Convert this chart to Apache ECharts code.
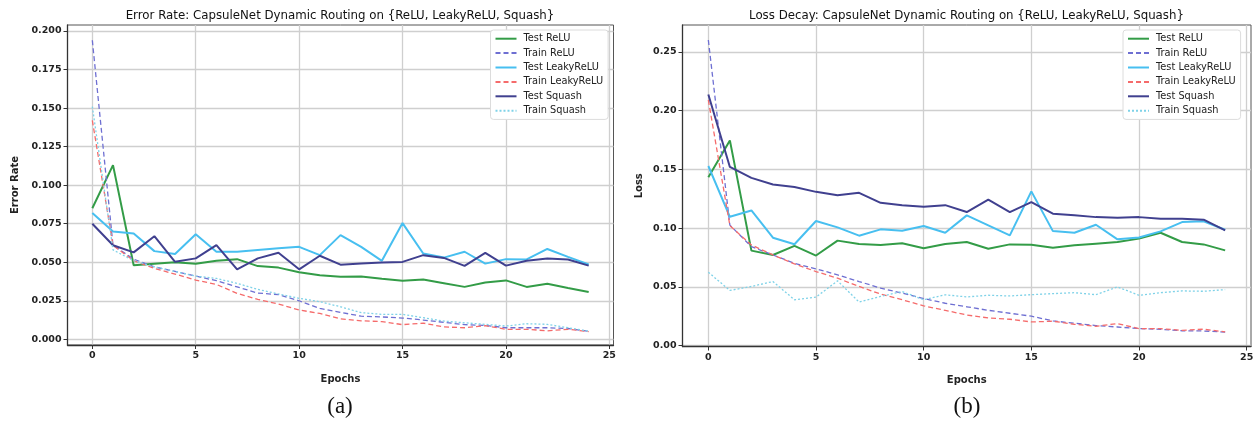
<!DOCTYPE html>
<html>
<head>
<meta charset="utf-8">
<title>CapsuleNet Dynamic Routing</title>
<script src="https://cdn.jsdelivr.net/npm/echarts@6/dist/echarts.min.js"></script>
<style>
  html, body { margin: 0; padding: 0; background: #fff; }
  #main { width: 1259px; height: 423px; }
</style>
</head>
<body>
<div id="main"></div>
<script>
// epochs 0..24
var epochs = [0, 1, 2, 3, 4, 5, 6, 7, 8, 9, 10, 11, 12, 13, 14, 15, 16, 17, 18, 19, 20, 21, 22, 23, 24];
var seriesNames = ['Test ReLU', 'Train ReLU', 'Test LeakyReLU', 'Train LeakyReLU', 'Test Squash', 'Train Squash'];

// (a) error rate
var errTestRelu = [0.085, 0.113, 0.048, 0.049, 0.050, 0.049, 0.051, 0.052, 0.0475, 0.0465, 0.0435, 0.0415, 0.0405, 0.0408, 0.0393, 0.038, 0.0388, 0.0364, 0.034, 0.0368, 0.0382, 0.034, 0.036, 0.0333, 0.0307];
var errTrainRelu = [0.194, 0.061, 0.052, 0.047, 0.044, 0.041, 0.038, 0.034, 0.030, 0.029, 0.025, 0.020, 0.0175, 0.015, 0.0145, 0.0138, 0.0125, 0.011, 0.0095, 0.009, 0.0075, 0.0075, 0.0075, 0.007, 0.0052];
var errTestLeaky = [0.082, 0.070, 0.0687, 0.0572, 0.0553, 0.0682, 0.0568, 0.0568, 0.0579, 0.059, 0.060, 0.0546, 0.0676, 0.060, 0.0509, 0.0754, 0.0557, 0.053, 0.0568, 0.0491, 0.052, 0.0518, 0.0586, 0.0535, 0.0485];
var errTrainLeaky = [0.142, 0.061, 0.051, 0.046, 0.0423, 0.0384, 0.0356, 0.0298, 0.0259, 0.0229, 0.019, 0.0168, 0.0132, 0.012, 0.0115, 0.0095, 0.0105, 0.008, 0.0075, 0.0088, 0.0065, 0.0065, 0.0055, 0.0065, 0.005];
var errTestSquash = [0.075, 0.061, 0.0564, 0.0669, 0.0503, 0.0525, 0.0611, 0.0454, 0.0525, 0.0561, 0.0454, 0.0542, 0.0484, 0.0491, 0.0498, 0.0502, 0.0546, 0.0528, 0.0476, 0.0561, 0.0478, 0.0509, 0.0524, 0.0518, 0.0478];
var errTrainSquash = [0.151, 0.058, 0.051, 0.047, 0.044, 0.041, 0.0395, 0.0363, 0.0324, 0.0294, 0.0266, 0.0244, 0.0211, 0.0173, 0.0162, 0.0162, 0.014, 0.0118, 0.0107, 0.0097, 0.0086, 0.0101, 0.0097, 0.0075, 0.0053];

// (b) loss
var lossTestRelu = [0.1432, 0.1746, 0.0808, 0.0771, 0.0848, 0.0766, 0.0893, 0.0864, 0.0856, 0.087, 0.0828, 0.0864, 0.0881, 0.0824, 0.0861, 0.0858, 0.0833, 0.0853, 0.0867, 0.0881, 0.091, 0.096, 0.0881, 0.0861, 0.081];
var lossTrainRelu = [0.260, 0.1025, 0.0842, 0.0771, 0.070, 0.0653, 0.0602, 0.0545, 0.0489, 0.0446, 0.040, 0.036, 0.033, 0.030, 0.0275, 0.025, 0.021, 0.019, 0.017, 0.0158, 0.0145, 0.0138, 0.0126, 0.0124, 0.0115];
var lossTestLeaky = [0.1528, 0.1096, 0.115, 0.0918, 0.0862, 0.106, 0.1006, 0.0935, 0.0989, 0.0977, 0.1017, 0.096, 0.1108, 0.1023, 0.0938, 0.1312, 0.0974, 0.096, 0.1028, 0.0904, 0.092, 0.0972, 0.1051, 0.1057, 0.0986];
var lossTrainLeaky = [0.209, 0.102, 0.0856, 0.0771, 0.0695, 0.063, 0.0573, 0.0503, 0.0438, 0.039, 0.0338, 0.030, 0.026, 0.0235, 0.0224, 0.0201, 0.0207, 0.0181, 0.0164, 0.0187, 0.0144, 0.0144, 0.013, 0.0139, 0.0116];
var lossTestSquash = [0.2136, 0.152, 0.1427, 0.137, 0.135, 0.1308, 0.128, 0.13, 0.1215, 0.1195, 0.1181, 0.1195, 0.1136, 0.1241, 0.1136, 0.1221, 0.1122, 0.1108, 0.1093, 0.1088, 0.1093, 0.1079, 0.1079, 0.1071, 0.098];
var lossTrainSquash = [0.0624, 0.0469, 0.0503, 0.0545, 0.039, 0.0412, 0.0551, 0.037, 0.0418, 0.046, 0.039, 0.0432, 0.0414, 0.0428, 0.0422, 0.0433, 0.0442, 0.045, 0.0433, 0.0499, 0.0428, 0.045, 0.0465, 0.0462, 0.0476];

// tick labels
var xTicks = [0, 5, 10, 15, 20, 25];
var errTicks = [0, 0.025, 0.05, 0.075, 0.1, 0.125, 0.15, 0.175, 0.2];
var lossTicks = [0, 0.05, 0.1, 0.15, 0.2, 0.25];

var FONT = '"DejaVu Sans", "Noto Sans", sans-serif';
// colour / dash per series name
var styles = {
  'Test ReLU':       { color: '#339c47', width: 2,   type: 'solid' },
  'Train ReLU':      { color: '#6e6fd2', width: 1.3, type: [5, 3] },
  'Test LeakyReLU':  { color: '#47bff0', width: 2,   type: 'solid' },
  'Train LeakyReLU': { color: '#f56b6b', width: 1.3, type: [5, 3] },
  'Test Squash':     { color: '#40408f', width: 2,   type: 'solid' },
  'Train Squash':    { color: '#7fd2e8', width: 1.3, type: [2, 2] }
};

var pair = function(values) {
  var out = [];
  for (var i = 0; i < epochs.length; i++) out.push([epochs[i], values[i]]);
  return out;
};

var makeSeries = function(name, values, idx) {
  var st = styles[name];
  return {
    name: name,
    type: 'line',
    xAxisIndex: idx,
    yAxisIndex: idx,
    data: pair(values),
    symbol: 'none',
    color: st.color,
    lineStyle: { color: st.color, width: st.width, type: st.type },
    emphasis: { disabled: true }
  };
};

var xAxisOf = function(idx) {
  return {
    type: 'value',
    gridIndex: idx,
    min: -1.2,
    max: 25.2,
    name: 'Epochs',
    nameLocation: 'middle',
    nameGap: 29,
    nameTextStyle: { fontFamily: FONT, fontSize: 10, fontWeight: 'bold', color: '#222' },
    axisLine: { show: true, onZero: false, lineStyle: { color: '#333', width: 1.3 } },
    axisTick: { show: true, length: 4, customValues: xTicks, lineStyle: { color: '#333' } },
    axisLabel: { customValues: xTicks, margin: 6, fontFamily: FONT, fontSize: 9.5, fontWeight: 'bold', color: '#222' },
    splitLine: { show: true, lineStyle: { color: '#cfcfcf', width: 1.3 } }
  };
};

var yAxisOf = function(idx, min, max, ticks, digits, name, gap) {
  return {
    type: 'value',
    gridIndex: idx,
    min: min,
    max: max,
    name: name,
    nameLocation: 'middle',
    nameRotate: 90,
    nameGap: gap,
    nameTextStyle: { fontFamily: FONT, fontSize: 10, fontWeight: 'bold', color: '#222' },
    axisLine: { show: true, onZero: false, lineStyle: { color: '#333', width: 1.3 } },
    axisTick: { show: true, length: 4, customValues: ticks, lineStyle: { color: '#333' } },
    axisLabel: {
      customValues: ticks,
      margin: 6,
      fontFamily: FONT,
      fontSize: 9.5,
      fontWeight: 'bold',
      color: '#222',
      formatter: function(v) { return v.toFixed(digits); }
    },
    splitLine: { show: true, lineStyle: { color: '#cfcfcf', width: 1.3 } }
  };
};

var legendOf = function(left) {
  return {
    data: seriesNames,
    orient: 'vertical',
    left: left,
    top: 30,
    padding: [3, 5, 3, 4],
    itemGap: 3,
    itemWidth: 21,
    itemHeight: 10,
    backgroundColor: '#fff',
    borderColor: '#dcdcdc',
    borderWidth: 1,
    borderRadius: 3,
    selectedMode: false,
    // hide the marker dot, keep only the line sample
    itemStyle: { color: 'rgba(0,0,0,0)', borderWidth: 0 },
    textStyle: { fontFamily: FONT, fontSize: 9.8, color: '#222', lineHeight: 11.4, padding: [0, 0, 0, 2] }
  };
};

var textItem = function(x, y, text, font) {
  return {
    type: 'text',
    x: x,
    y: y,
    style: { text: text, font: font, fill: '#111', align: 'center', verticalAlign: 'middle' }
  };
};

var chart = echarts.init(document.getElementById('main'));

var series = [];
series.push(makeSeries('Test ReLU', errTestRelu, 0));
series.push(makeSeries('Train ReLU', errTrainRelu, 0));
series.push(makeSeries('Test LeakyReLU', errTestLeaky, 0));
series.push(makeSeries('Train LeakyReLU', errTrainLeaky, 0));
series.push(makeSeries('Test Squash', errTestSquash, 0));
series.push(makeSeries('Train Squash', errTrainSquash, 0));
series.push(makeSeries('Test ReLU', lossTestRelu, 1));
series.push(makeSeries('Train ReLU', lossTrainRelu, 1));
series.push(makeSeries('Test LeakyReLU', lossTestLeaky, 1));
series.push(makeSeries('Train LeakyReLU', lossTrainLeaky, 1));
series.push(makeSeries('Test Squash', lossTestSquash, 1));
series.push(makeSeries('Train Squash', lossTrainSquash, 1));

chart.setOption({
  animation: false,
  backgroundColor: '#fff',
  grid: [
    { left: 67.5, top: 25, width: 546, height: 320, show: true, borderColor: '#555', borderWidth: 1, backgroundColor: 'transparent' },
    { left: 682.5, top: 25, width: 568.5, height: 321.5, show: true, borderColor: '#555', borderWidth: 1, backgroundColor: 'transparent' }
  ],
  xAxis: [xAxisOf(0), xAxisOf(1)],
  yAxis: [
    yAxisOf(0, -0.0037, 0.2039, errTicks, 3, 'Error Rate', 47.5),
    yAxisOf(1, -0.0008, 0.2728, lossTicks, 2, 'Loss', 38.5)
  ],
  legend: [legendOf(490.5), legendOf(1123)],
  graphic: [
    textItem(340, 15.5, 'Error Rate: CapsuleNet Dynamic Routing on {ReLU, LeakyReLU, Squash}', '11.8px ' + FONT),
    textItem(966.5, 15.5, 'Loss Decay: CapsuleNet Dynamic Routing on {ReLU, LeakyReLU, Squash}', '11.8px ' + FONT),
    textItem(340, 407, '(a)', '23px "Liberation Serif", "Times New Roman", serif'),
    textItem(967, 407, '(b)', '23px "Liberation Serif", "Times New Roman", serif')
  ],
  series: series
});
</script>
</body>
</html>
